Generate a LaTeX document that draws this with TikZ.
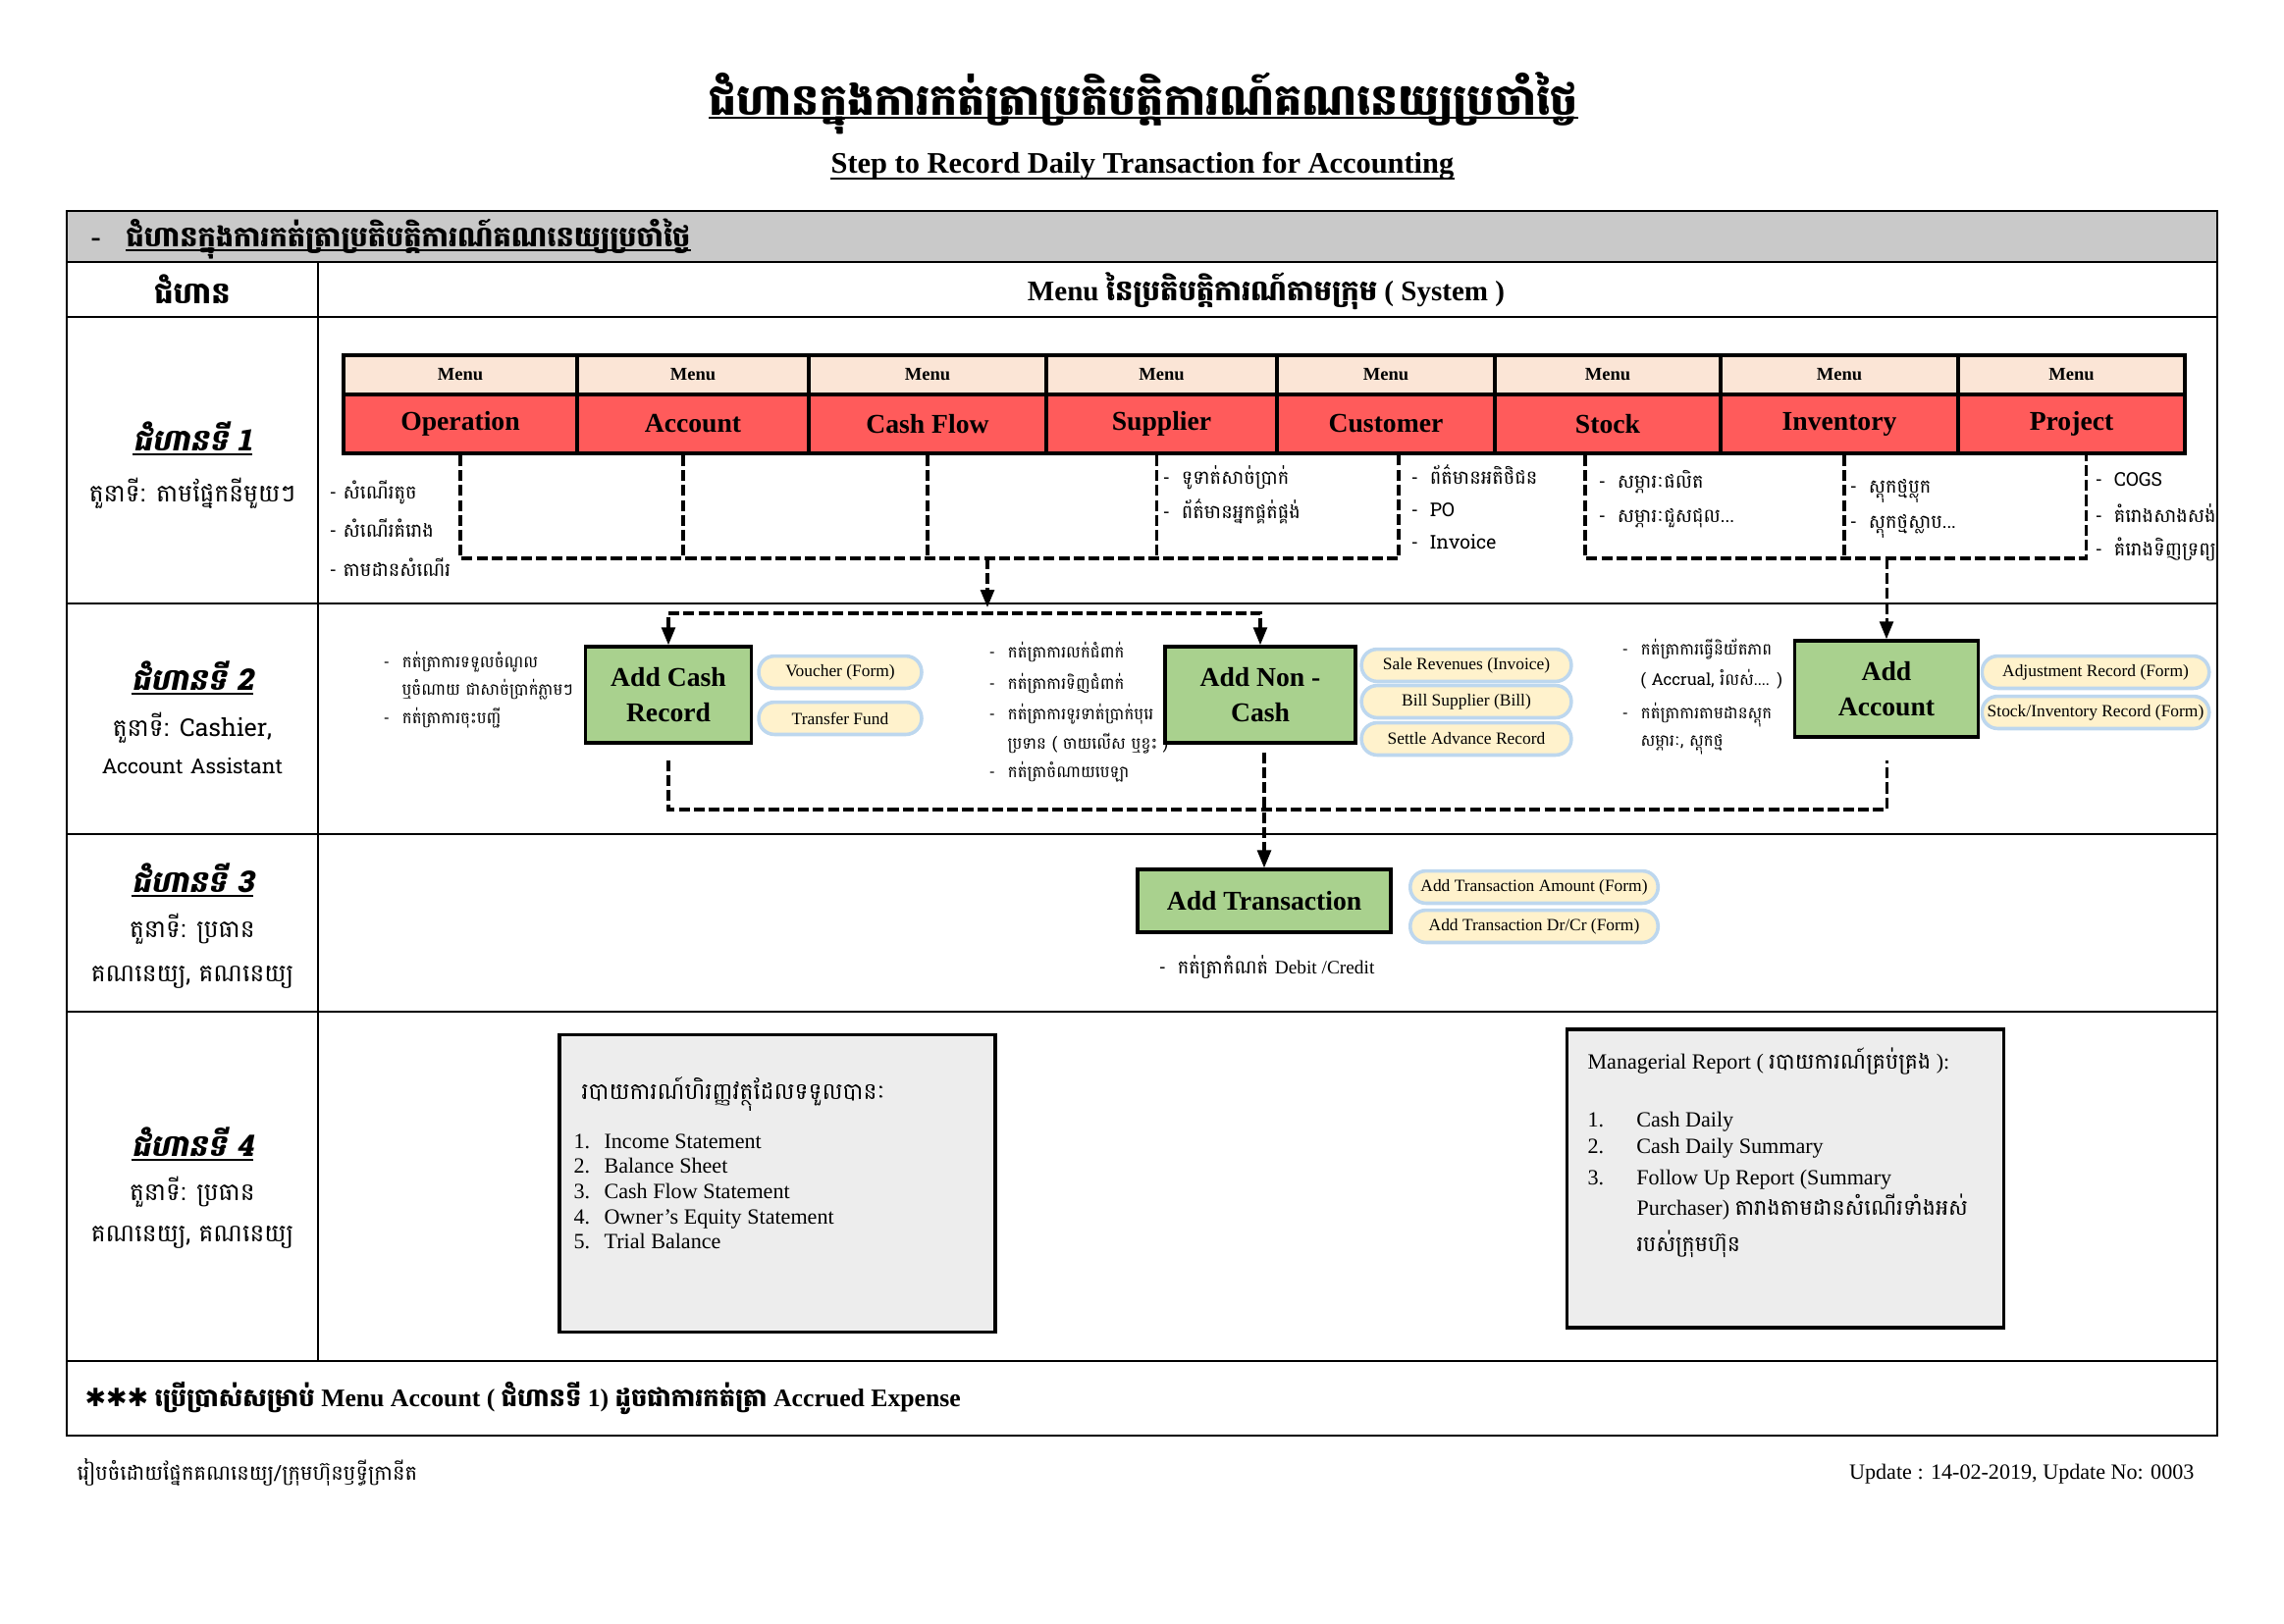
\documentclass[tikz,border=0pt]{standalone}
\usepackage{fontspec}
\usepackage{xcolor}
\setmainfont{Liberation Serif}
\newfontfamily\kh[Script=Khmer]{Battambang}
\newfontfamily\khsl[Script=Khmer,FakeSlant=0.2]{Battambang}
\newfontfamily\sym{DejaVu Sans}
\usetikzlibrary{arrows.meta,positioning,calc}

\definecolor{bandgray}{HTML}{C9C9C9}
\definecolor{menupeach}{HTML}{FBE5D6}
\definecolor{menured}{HTML}{FF5B5B}
\definecolor{actgreen}{HTML}{A9D18E}
\definecolor{pillfill}{HTML}{FFF2CC}
\definecolor{pilledge}{HTML}{BDD7EE}
\definecolor{repgray}{HTML}{EDEDED}

\newcommand{\bul}{\makebox[7pt][l]{-}}

\tikzset{
  flowtip/.tip={Triangle[width=5pt,length=6.5pt]},
  flow/.style={line width=1.1pt, dash pattern=on 4pt off 1.5pt},
  flowarrow/.style={flow, -flowtip},
  menuhead/.style={draw, line width=1.4pt, fill=menupeach, minimum height=14.5pt, inner sep=0pt, text depth=0.4pt, font=\bfseries\fontsize{6.7}{8}\selectfont},
  menubox/.style={draw, line width=1.4pt, fill=menured, minimum height=21.7pt, inner sep=0pt, font=\bfseries\fontsize{10}{12}\selectfont},
  actbox/.style={draw, line width=1.3pt, fill=actgreen, align=center, inner sep=0pt, font=\bfseries\fontsize{10}{13}\selectfont},
  pill/.style={draw=pilledge, line width=1.3pt, fill=pillfill, rounded corners=5.8pt, minimum height=11.9pt, inner sep=0pt, font=\fontsize{6.3}{7}\selectfont},
  reportbox/.style={draw, line width=1.3pt, fill=repgray},
  note/.style={inner sep=0pt, anchor=base west, font=\kh\fontsize{7}{8}\selectfont},
  actnote/.style={note, font=\kh\fontsize{6}{7.5}\selectfont},
  steplabel/.style={inner sep=0pt, anchor=base, font=\khsl\bfseries\fontsize{11}{13}\selectfont},
  role/.style={inner sep=0pt, anchor=base, font=\kh\fontsize{9}{11}\selectfont},
  repitem/.style={inner sep=0pt, anchor=base west, font=\fontsize{8}{9.5}\selectfont},
  tableline/.style={line width=0.75pt}
}

\begin{document}
\begin{tikzpicture}[x=0.3617pt, y=-0.3617pt]
    \useasboundingbox (0,0) rectangle (2327,1654);

    % Titles
    \node[inner sep=0pt, anchor=base, font=\kh\bfseries\fontsize{16}{18}\selectfont] (title) at (1165,117) {ជំហានក្នុងការកត់ត្រាប្រតិបត្តិការណ៍គណនេយ្យប្រចាំថ្ងៃ};
    \draw[line width=0.9pt] ($(title.base west)+(0,3)$) -- ($(title.base east)+(0,3)$);
    \node[inner sep=0pt, anchor=base, font=\bfseries\fontsize{11}{13}\selectfont] (subtitle) at (1164,176) {Step to Record Daily Transaction for Accounting};
    \draw[line width=0.8pt] ($(subtitle.base west)+(0,6)$) -- ($(subtitle.base east)+(0,6)$);

    % Table
    \fill[bandgray] (68,215) rectangle (2259,267);
    \draw[tableline] (68,215) rectangle (2259,1463);
    \draw[tableline] (68,267) -- (2259,267);
    \draw[line width=1pt] (68,323) -- (2259,323);
    \foreach \y in {615,850,1031,1387}
        \draw[tableline] (68,\y) -- (2259,\y);
    \draw[tableline] (324,267) -- (324,1387);

    % Header rows
    \node[inner sep=0pt, anchor=base west, font=\bfseries\fontsize{11}{13}\selectfont] (banddash) at (92,251) {-};
    \node[inner sep=0pt, anchor=base west, font=\kh\bfseries\fontsize{10.4}{13}\selectfont] (band) at (128,251) {ជំហានក្នុងការកត់ត្រាប្រតិបត្តិការណ៍គណនេយ្យប្រចាំថ្ងៃ};
    \draw[line width=0.7pt] ($(band.base west)+(0,4)$) -- ($(band.base east)+(0,4)$);
    \node[font=\kh\bfseries\fontsize{11}{13}\selectfont] (hstep) at (196,295) {ជំហាន};
    \node[font=\bfseries\fontsize{10.5}{13}\selectfont] (hmenu) at (1290,297) {Menu {\kh នៃប្រតិបត្តិការណ៍តាមក្រុម} ( System )};

    % Step column
    \foreach \y/\n [count=\i] in {459/1, 703/2, 909/3, 1178/4} {
        \node[steplabel] (step\i) at (196,\y) {ជំហានទី \n};
        \draw[line width=0.8pt] ($(step\i.base west)+(0,4)$) -- ($(step\i.base east)+(0,4)$);
    }
    \foreach \y/\t [count=\i] in {511/{តួនាទី: តាមផ្នែកនីមួយៗ}, 750/{តួនាទី: Cashier,}, 788/{\fontsize{7.6}{9}\selectfont Account Assistant},
        955/{តួនាទី: ប្រធាន}, 1000/{គណនេយ្យ, គណនេយ្យ}, 1223/{តួនាទី: ប្រធាន}, 1265/{គណនេយ្យ, គណនេយ្យ}}
        \node[role] (role\i) at (196,\y) {\t};

    % Step 1: menus
    \foreach \l/\r/\nm/\txt in {350/588/opr/Operation, 588/824/acc/Account, 824/1066/cfl/Cash Flow,
        1066/1301/sup/Supplier, 1301/1523/cus/Customer, 1523/1753/stk/Stock,
        1753/1995/inv/Inventory, 1995/2226/prj/Project} {
        \node[menuhead, minimum width={(\r-\l)*0.3617pt}] (\nm-h) at ({(\l+\r)/2},382) {Menu};
        \node[menubox, minimum width={(\r-\l)*0.3617pt}] (\nm) at ({(\l+\r)/2},432) {\txt};
    }
    \foreach \x/\y/\t [count=\i] in {335/508/{- សំណើរតូច}, 335/547/{- សំណើរគំរោង}, 335/587/{- តាមដានសំណើរ},
        1184/493/{\bul ទូទាត់សាច់ប្រាក់}, 1184/528/{\bul ព័ត៌មានអ្នកផ្គត់ផ្គង់},
        1437/493/{\bul ព័ត៌មានអតិថិជន}, 1437/526/{\bul PO}, 1437/559/{\bul Invoice},
        1628/497/{\bul សម្ភារៈផលិត}, 1628/532/{\bul សម្ភារៈជួសជុល...},
        1884/502/{\bul ស្តុកថ្មប្លុក}, 1884/538/{\bul ស្តុកថ្មស្លាប...},
        2134/495/{\bul COGS}, 2134/532/{\bul គំរោងសាងសង់}, 2134/566/{\bul គំរោងទិញទ្រព្យ}}
        \node[note] (menunote\i) at (\x,\y) {\t};

    % Step 2: boxes
    \node[actbox, minimum width=61.1pt, minimum height=35.4pt] (cash) at (681,708) {Add Cash\\Record};
    \node[actbox, minimum width=70.2pt, minimum height=35.4pt] (noncash) at (1284,708) {Add Non -\\Cash};
    \node[actbox, minimum width=67.6pt, minimum height=35.4pt] (addacc) at (1922,702) {Add\\Account};
    \foreach \x/\y/\t [count=\i] in {390/680/{\bul កត់ត្រាការទទួលចំណូល}, 409/708/{ឬចំណាយ ជាសាច់ប្រាក់ភ្លាមៗ},
        390/737/{\bul កត់ត្រាការចុះបញ្ជី},
        1007/670/{\bul កត់ត្រាការលក់ជំពាក់}, 1007/702/{\bul កត់ត្រាការទិញជំពាក់},
        1007/733/{\bul កត់ត្រាការទូរទាត់ប្រាក់បុរេ}, 1026/763/{ប្រទាន ( ចាយលើស ឬខ្វះ )},
        1007/792/{\bul កត់ត្រាចំណាយបេឡា},
        1652/667/{\bul កត់ត្រាការធ្វើនិយ័តភាព}, 1671/698/{( Accrual, រំលស់.... )},
        1652/732/{\bul កត់ត្រាការតាមដានស្តុក}, 1671/760/{សម្ភារៈ, ស្តុកថ្ម}}
        \node[actnote] (actnote\i) at (\x,\y) {\t};

    % Step 3
    \node[actbox, minimum width=93.4pt, minimum height=23pt] (addtr) at (1288,918) {Add Transaction};
    \node[note] (trnote) at (1180,992) {\bul កត់ត្រាកំណត់ {\rmfamily Debit /Credit}};

    % Forms
    \foreach \x/\y/\w/\nm/\t in {856/685/60/voucher/{Voucher (Form)}, 856/732/60/transfer/{Transfer Fund},
        1494/678/77.3/salerev/{Sale Revenues (Invoice)}, 1494/715/77.3/billsup/{Bill Supplier (Bill)},
        1494/753/77.3/settle/{Settle Advance Record},
        2135/685/83.7/adjrec/{Adjustment Record (Form)}, 2135/726/83.7/stkrec/{Stock/Inventory Record (Form)},
        1563/904/91.3/addamt/{Add Transaction Amount (Form)}, 1563/944/91.3/adddrcr/{Add Transaction Dr/Cr (Form)}}
        \node[pill, minimum width=\w pt] (\nm) at (\x,\y) {\t};

    % Connectors
    \coordinate (j1) at (1006,569);
    \coordinate (j2) at (1006,619);
    \coordinate (j3) at (1006,625);
    \coordinate (j4) at (1922,569);
    \coordinate (j5) at (1288,825);
    \draw[flow] (opr.south) |- (j1) -| ($(cus.south)+(13,0)$);
    \draw[flow] ($(acc.south)+(-10,0)$) -- ($(acc.south |- j1)+(-10,0)$);
    \draw[flow] (cfl.south) -- (cfl.south |- j1);
    \draw[flow] ($(sup.south)+(-5,0)$) -- ($(sup.south |- j1)+(-5,0)$);
    \draw[flowarrow] (j1) -- (j2);
    \draw[flow, flowtip-flowtip] (cash.north) |- (j3) -| (noncash.north);
    \draw[flow] ($(stk.south)+(-23,0)$) |- (j4) -| ($(prj.south)+(15,0)$);
    \draw[flow] ($(inv.south)+(5,0)$) -- ($(inv.south |- j4)+(5,0)$);
    \draw[flowarrow] (j4) -- (addacc.north);
    \draw[flow] ($(cash.south)+(0,16)$) |- (j5) -| ($(addacc.south)+(0,22)$);
    \draw[flowarrow] ($(addtr.north |- noncash.south)+(0,8)$) -- (addtr.north);

    % Step 4: reports
    \node[reportbox, minimum width=160.5pt, minimum height=109.5pt] (finrep) at (792,1206) {};
    \node[inner sep=0pt, anchor=base west, font=\kh\fontsize{8.5}{10}\selectfont] (finhead) at (592,1120) {របាយការណ៍ហិរញ្ញវត្ថុដែលទទួលបានៈ};
    \foreach \y/\t [count=\i] in {1170/Income Statement, 1195/Balance Sheet, 1221/Cash Flow Statement,
        1247/Owner’s Equity Statement, 1272/Trial Balance}
        \node[repitem] (fin\i) at (584,\y) {\makebox[11.2pt][l]{\i.}\t};

    \node[reportbox, minimum width=161pt, minimum height=110pt] (mgrrep) at (1819,1201) {};
    \node[repitem] (mgrhead) at (1617,1089) {Managerial Report ( {\kh របាយការណ៍គ្រប់គ្រង} ):};
    \node[repitem] (mgr1) at (1617,1148) {\makebox[18pt][l]{1.}Cash Daily};
    \node[repitem] (mgr2) at (1617,1175) {\makebox[18pt][l]{2.}Cash Daily Summary};
    \node[repitem] (mgr3) at (1617,1207) {\makebox[18pt][l]{3.}Follow Up Report (Summary};
    \node[repitem] (mgr4) at (1667,1238) {Purchaser) {\kh តារាងតាមដានសំណើរទាំងអស់}};
    \node[repitem] (mgr5) at (1667,1275) {\kh របស់ក្រុមហ៊ុន};

    % Remark and footer
    \node[inner sep=0pt, anchor=base west, font=\bfseries\fontsize{9.3}{11}\selectfont] (remark) at (86,1433)
        {{\sym ✱✱✱} {\kh ប្រើប្រាស់សម្រាប់} Menu Account ( {\kh ជំហានទី} 1) {\kh ដូចជាការកត់ត្រា} Accrued Expense};
    \node[inner sep=0pt, anchor=base west, font=\kh\fontsize{7.6}{9}\selectfont] (prepared) at (78,1508) {រៀបចំដោយផ្នែកគណនេយ្យ/ក្រុមហ៊ុនឫទ្ធីក្រានីត};
    \node[inner sep=0pt, anchor=base east, font=\fontsize{8}{9}\selectfont] (update) at (2236,1507) {Update : 14-02-2019, Update No: 0003};
\end{tikzpicture}
\end{document}
